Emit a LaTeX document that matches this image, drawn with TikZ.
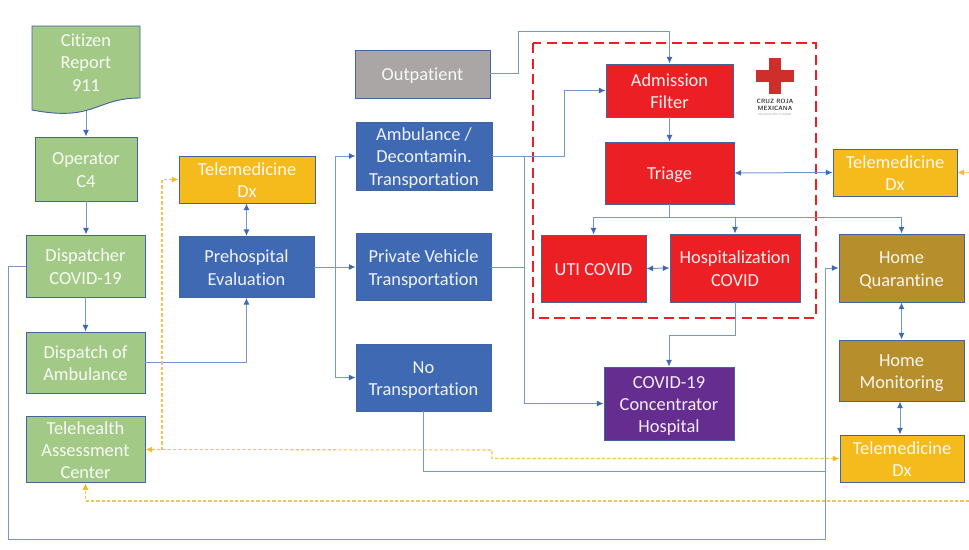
\documentclass[tikz,border=0pt]{standalone}
\usepackage{fontspec}
\setmainfont{Carlito}[Ligatures=CommonOff]
\usetikzlibrary{arrows.meta}

\definecolor{boxgreen}{HTML}{A3C987}
\definecolor{boxyellow}{HTML}{F5BA1B}
\definecolor{boxblue}{HTML}{3F69B3}
\definecolor{boxred}{HTML}{EC2024}
\definecolor{boxbrown}{HTML}{B78E2C}
\definecolor{boxpurple}{HTML}{652D90}
\definecolor{boxgrey}{HTML}{A9A6A5}
\definecolor{edgeblue}{HTML}{41659F}
\definecolor{linkblue}{HTML}{7597D0}
\definecolor{linkyellow}{HTML}{F4C451}
\definecolor{crossred}{HTML}{CF2F2A}

\tikzset{
    boxsize/.style 2 args={minimum width=#1*.75pt,minimum height=#2*.75pt},
    boxtext/.style={align=center,inner sep=0pt,font=\fontsize{13.8}{16.7}\selectfont,text=white!92!#1,text height=13.4pt,text depth=3pt},
    twolines/.style={text height=30.1pt},
    threelines/.style={text height=46.8pt},
    box/.style={boxtext=#1,draw=edgeblue,line width=.7pt,fill=#1},
    link/.style={linkblue,line width=.75pt,>={Latex[length=5pt,width=4.5pt,color=boxblue]}},
    teleline/.style={linkyellow,line width=.8pt,dash pattern=on 2.5pt off 1.5pt,>={Latex[length=5pt,width=4.5pt,color=boxyellow]}},
}

\begin{document}
\begin{tikzpicture}[x=.75pt,y=-.75pt]
    \useasboundingbox (0,0) rectangle (969,549);

    \draw[boxred,line width=2.2pt,dash pattern=on 7.7pt off 4pt] (533,43) rectangle (816,318);

    % citizen report sheet
    \draw[edgeblue,line width=.7pt,fill=boxgreen] (32,26) -- (140,26) -- (140,98) .. controls (95,98) and (95,122) .. (32,110) -- cycle;
    \coordinate (citizenend) at (86,111);

    \node[box=boxgreen,twolines,boxsize={102}{64}] (operator) at (86,169) {Operator\\C4};
    \node[box=boxgreen,twolines,boxsize={119}{62}] (dispatcher) at (85.5,266) {Dispatcher\\COVID-19};
    \node[box=boxgreen,twolines,boxsize={119}{61}] (dispatch) at (85.5,362.5) {Dispatch of\\Ambulance};
    \node[box=boxgreen,threelines,boxsize={119}{66}] (telehealth) at (85.5,449.5) {Telehealth\\Assessment\\Center};
    \node[boxtext=boxgreen,threelines] (citizen) at (86,62) {Citizen\\Report\\911};

    \node[box=boxyellow,twolines,boxsize={136}{47}] (teleone) at (247,179.5) {Telemedicine\\Dx};
    \node[box=boxblue,twolines,boxsize={135}{61}] (prehosp) at (246.5,267) {Prehospital\\Evaluation};

    \node[box=boxgrey,boxsize={135}{48}] (outpatient) at (422.5,74) {Outpatient};
    \node[box=boxblue,threelines,boxsize={136}{68}] (ambulance) at (424,156) {Ambulance /\\Decontamin.\\Transportation};
    \node[box=boxblue,twolines,boxsize={135}{67}] (private) at (423.5,267) {Private Vehicle\\Transportation};
    \node[box=boxblue,twolines,boxsize={135}{67}] (notrans) at (423.5,377.5) {No\\Transportation};

    \node[box=boxred,twolines,boxsize={127}{53}] (admission) at (669.5,90.5) {Admission\\Filter};
    \node[box=boxred,boxsize={129}{62}] (triage) at (669.5,173) {Triage};
    \node[box=boxred,boxsize={105}{67}] (uti) at (593.5,268.5) {UTI COVID};
    \node[box=boxred,twolines,boxsize={130}{68}] (hosp) at (735,268) {Hospitalization\\COVID};
    \node[box=boxpurple,threelines,boxsize={130}{73}] (concentrator) at (669,403.5) {COVID-19\\Concentrator\\Hospital};

    \node[box=boxyellow,twolines,boxsize={124}{47}] (teletwo) at (895,172.5) {Telemedicine\\Dx};
    \node[box=boxbrown,twolines,boxsize={125}{68}] (quarantine) at (901.5,268) {Home\\Quarantine};
    \node[box=boxbrown,twolines,boxsize={125}{61}] (monitoring) at (901.5,370.5) {Home\\Monitoring};
    \node[box=boxyellow,twolines,boxsize={124}{47}] (telethree) at (902,458.5) {Telemedicine\\Dx};

    % logo
    \fill[crossred] (756,70) rectangle (794,82);
    \fill[crossred] (769,58) rectangle (781,94);
    \node[text=black!75,font=\sffamily\bfseries\fontsize{4.6}{5}\selectfont,align=center,inner sep=0pt] (logotext) at (775,105) {CRUZ ROJA\\MEXICANA};
    \node[text=black!40,font=\sffamily\fontsize{2.2}{3}\selectfont,inner sep=0pt] (logosub) at (775,114.5) {DELEGACIÓN TIJUANA};

    \coordinate (splitone) at (335,267);
    \coordinate (ambbend) at (564,156);
    \coordinate (ambdown) at (524,156);
    \coordinate (outbend) at (518,32);
    \coordinate (triagesplit) at (669.5,217);
    \coordinate (quarbend) at (825,471);
    \coordinate (leftcorner) at (8,539);
    \coordinate (lowcorner) at (825,539);
    \coordinate (telejoin) at (162,450);
    \coordinate (teleturn) at (492,450);
    \coordinate (edgeright) at (969,172.5);
    \coordinate (edgelow) at (969,501);

    \draw[link,->] (citizenend) -- (operator.north);
    \draw[link,->] (operator.south) -- (dispatcher.north -| operator.south);
    \draw[link,->] (dispatcher.south) -- (dispatch.north);
    \draw[link,->] (dispatch.east) -| (prehosp.south);
    \draw[link,<->] (prehosp.north) -- (prehosp.north |- teleone.south);

    \draw[link,->] (prehosp.east) -- (private.west);
    \draw[link,->] (splitone) |- (ambulance.west);
    \draw[link,->] (splitone) |- (notrans.west);

    \draw[link,->] (ambulance.east) -- (ambbend) |- (admission.west);
    \draw[link,->] (ambdown) |- (concentrator.west);
    \draw[link] (private.east) -- (private.east -| ambdown);
    \draw[link,->] (outpatient.east) -| (outbend) -| (admission.north);

    \draw[link,->] (admission.south) -- (triage.north);
    \draw[link,<->] (triage.east) -- (teletwo.west);
    \draw[link] (triage.south) -- (triagesplit);
    \draw[link,->] (triagesplit) -| (uti.north);
    \draw[link,->] (triagesplit) -| (hosp.north);
    \draw[link,->] (triagesplit) -| (quarantine.north);
    \draw[link,<->] (uti.east) -- (hosp.west);
    \draw[link,->] (hosp.south) -- ++(0,33) -| (concentrator.north);

    \draw[link,<->] (quarantine.south) -- (monitoring.north);
    \draw[link,<->] (monitoring.south -| 900,0) -- (telethree.north -| 900,0);

    \draw[link] (notrans.south) |- (quarbend);
    \draw[link,->] (quarbend) |- (quarantine.west);
    \draw[link] (dispatcher.west) -| (leftcorner) -- (lowcorner) -- (quarbend);

    % telemedicine links
    \draw[teleline,<->] (telehealth.east) -- (teleturn) -- (teleturn |- telethree.west) -- (telethree.west);
    \draw[teleline,->] (telejoin) |- (teleone.west);
    \draw[teleline,->] (edgeright) -- (teletwo.east);
    \draw[teleline,->] (edgelow) -| (telehealth.south);
\end{tikzpicture}
\end{document}
